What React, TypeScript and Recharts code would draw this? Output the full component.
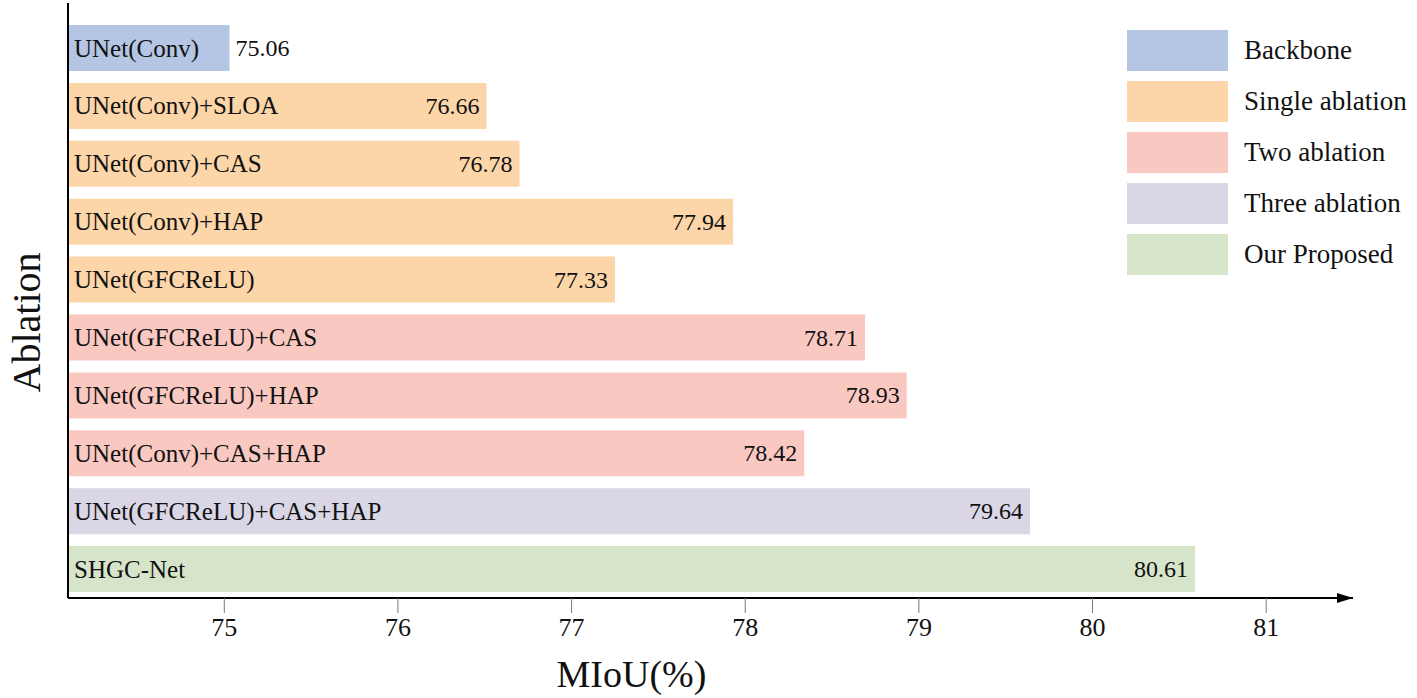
import { BarChart, Bar, XAxis, YAxis, Cell, LabelList, Legend, Label } from "recharts";

const CATEGORIES = [
  "UNet(Conv)",
  "UNet(Conv)+SLOA",
  "UNet(Conv)+CAS",
  "UNet(Conv)+HAP",
  "UNet(GFCReLU)",
  "UNet(GFCReLU)+CAS",
  "UNet(GFCReLU)+HAP",
  "UNet(Conv)+CAS+HAP",
  "UNet(GFCReLU)+CAS+HAP",
  "SHGC-Net",
];
// printed numbers on the bars
const MIOU_TEXT = ["75.06", "76.66", "76.78", "77.94", "77.33", "78.71", "78.93", "78.42", "79.64", "80.61"];
// bar lengths as drawn in the figure (a few are a bit shorter than their printed number)
const BAR_LENGTH = [75.03, 76.51, 76.7, 77.93, 77.25, 78.69, 78.93, 78.34, 79.64, 80.59];
const GROUP_OF_BAR = [0, 1, 1, 1, 1, 2, 2, 2, 3, 4];
const GROUP_NAMES = ["Backbone", "Single ablation", "Two ablation", "Three ablation", "Our Proposed"];
const GROUP_COLORS = ["#b4c6e4", "#fcd5a8", "#f9c8c1", "#dad6e6", "#d6e5c9"];
const X_TICKS = [75, 76, 77, 78, 79, 80, 81];

const FONT = '"Liberation Serif", "Times New Roman", serif';

const data = CATEGORIES.map((name, i) => ({
  name,
  value: BAR_LENGTH[i],
  text: MIOU_TEXT[i],
  group: GROUP_OF_BAR[i],
}));

// category name drawn inside the bar, at its left end
function NameLabel(props: any) {
  const { x, y, height, value } = props;
  return (
    <text
      x={x + 6}
      y={y + height / 2}
      dominantBaseline="central"
      fontFamily={FONT}
      fontSize={25}
      fill="#111"
    >
      {value}
    </text>
  );
}

// value at the right end, pushed outside when the bar is too short
function ValueLabel(props: any) {
  const { x, y, width, height, value } = props;
  const outside = width < 220;
  return (
    <text
      x={outside ? x + width + 6 : x + width - 7}
      y={y + height / 2}
      textAnchor={outside ? "start" : "end"}
      dominantBaseline="central"
      fontFamily={FONT}
      fontSize={24}
      fill="#111"
    >
      {value}
    </text>
  );
}

function LegendBox() {
  return (
    <div style={{ fontFamily: FONT, fontSize: 27, color: "#111" }}>
      {GROUP_NAMES.map((g, i) => (
        <div key={g} style={{ display: "flex", alignItems: "center", height: 41, marginBottom: 10 }}>
          <div style={{ width: 101, height: 41, background: GROUP_COLORS[i], marginRight: 16 }} />
          <span>{g}</span>
        </div>
      ))}
    </div>
  );
}

export default function App() {
  return (
    <div style={{ position: "absolute", left: 0, top: 0, background: "#fff" }}>
      <BarChart
        width={1417}
        height={698}
        data={data}
        layout="vertical"
        margin={{ top: 3, right: 64, bottom: 0, left: 0 }}
        barSize={46}
      >
        <defs>
          <marker
            id="axisArrow"
            markerUnits="userSpaceOnUse"
            markerWidth={16}
            markerHeight={10}
            refX={16}
            refY={5}
            orient="auto"
          >
            <path d="M0,0 L16,5 L0,10 z" fill="#000" />
          </marker>
        </defs>
        <XAxis
          type="number"
          domain={[74.1, 81.5]}
          ticks={X_TICKS}
          height={100}
          tickSize={15}
          tickMargin={5}
          axisLine={{ stroke: "#000", strokeWidth: 2, markerEnd: "url(#axisArrow)" }}
          tickLine={{ stroke: "#777", strokeWidth: 1 }}
          tick={{ fontFamily: FONT, fontSize: 26, fill: "#111" }}
        >
          <Label
            content={(p: any) => {
              const vb = p.viewBox;
              return (
                <text
                  x={vb.x + vb.width / 2 - 79}
                  y={vb.y + 89}
                  textAnchor="middle"
                  fontFamily={FONT}
                  fontSize={38}
                  fill="#111"
                >
                  MIoU(%)
                </text>
              );
            }}
          />
        </XAxis>
        <YAxis
          type="category"
          dataKey="name"
          width={68}
          padding={{ top: 16, bottom: 0 }}
          tick={false}
          tickLine={false}
          axisLine={{ stroke: "#000", strokeWidth: 2 }}
        >
          <Label
            content={(p: any) => {
              const vb = p.viewBox;
              const cx = vb.x + 26;
              const cy = vb.y + vb.height / 2 + 22;
              return (
                <text
                  x={cx}
                  y={cy}
                  transform={`rotate(-90 ${cx} ${cy})`}
                  textAnchor="middle"
                  dominantBaseline="central"
                  fontFamily={FONT}
                  fontSize={40}
                  fill="#111"
                >
                  Ablation
                </text>
              );
            }}
          />
        </YAxis>
        <Legend
          layout="horizontal"
          align="center"
          verticalAlign="middle"
          wrapperStyle={{ left: 1127, top: 30, width: 290 }}
          content={() => <LegendBox />}
        />
        <Bar dataKey="value" isAnimationActive={false}>
          {data.map((d) => (
            <Cell key={d.name} fill={GROUP_COLORS[d.group]} />
          ))}
          <LabelList dataKey="name" content={NameLabel} />
          <LabelList dataKey="text" content={ValueLabel} />
        </Bar>
      </BarChart>
    </div>
  );
}
